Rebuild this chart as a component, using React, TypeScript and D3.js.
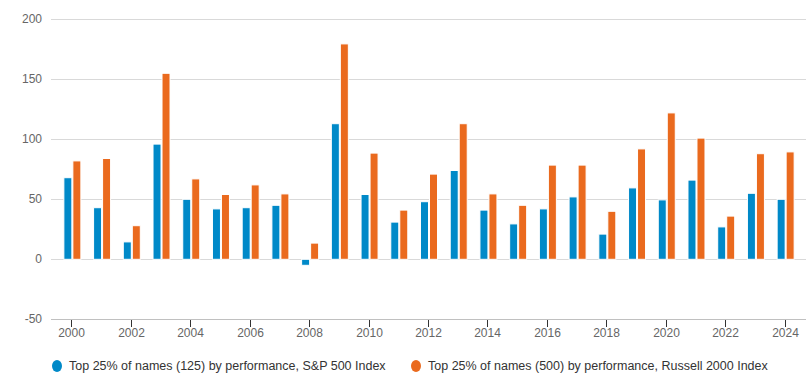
import React from "react";
import * as d3 from "d3";

const years = [2000,2001,2002,2003,2004,2005,2006,2007,2008,2009,2010,2011,2012,2013,2014,2015,2016,2017,2018,2019,2020,2021,2022,2023,2024];
const sp500 = [68,43,14.5,96,50,42,43,45,-5,113,54,31,48,74,41,29.5,42,52,21,59.5,49.5,66,27,55,50];
const russell = [82,84,28,155,67,54,62,54.5,13.5,179.5,88.5,41,71,113,54.5,45,78.5,78.5,40,92,122,101,36,88,89.5];
const yTicks = [-50,0,50,100,150,200];
const xTickYears = [2000,2002,2004,2006,2008,2010,2012,2014,2016,2018,2020,2022,2024];
const seriesNames = [
  "Top 25% of names (125) by performance, S&P 500 Index",
  "Top 25% of names (500) by performance, Russell 2000 Index",
];
const colors = ["#0089c8", "#ea6a1e"];

export default function App() {
  const W = 812, H = 379;
  const plotLeft = 51, plotRight = 806;
  const y = d3.scaleLinear().domain([-50, 200]).range([319.3, 19.3]);
  const x = d3.scaleBand<number>().domain(years).range([57.5, 800.5]).paddingInner(0).paddingOuter(0);
  const bw = 7, gap = 2;
  const font = "'Liberation Sans', Arial, sans-serif";
  return (
    <svg width={W} height={H} style={{ position: "absolute", left: 0, top: 0, background: "#fff" }} fontFamily={font}>
      {yTicks.map((t) => (
        <g key={t}>
          {t !== -50 && (
            <line x1={plotLeft} x2={plotRight} y1={Math.round(y(t)) + 0.5} y2={Math.round(y(t)) + 0.5} stroke="#d9d9d9" strokeWidth={1} />
          )}
          <text x={42} y={y(t) + 4} textAnchor="end" fontSize={12} fill="#666">{t}</text>
        </g>
      ))}
      {years.map((yr, i) => {
        const cx = x(yr)! + x.bandwidth() / 2;
        const vals = [sp500[i], russell[i]];
        return (
          <g key={yr}>
            {vals.map((v, j) => {
              const bx = j === 0 ? cx - gap / 2 - bw : cx + gap / 2;
              const y0 = y(0), y1 = y(v);
              return (
                <rect key={j} x={bx - 0.5} y={Math.min(y0, y1)} width={bw + 1} height={Math.abs(y1 - y0)} fill={colors[j]} stroke="#fff" strokeWidth={1} />
              );
            })}
          </g>
        );
      })}
      <line x1={plotLeft} x2={plotRight} y1={319.5} y2={319.5} stroke="#c0c0c0" strokeWidth={1} />
      {xTickYears.map((yr) => {
        const cx = Math.round(x(yr)! + x.bandwidth() / 2) - 0.5;
        return (
          <g key={yr}>
            <line x1={cx} x2={cx} y1={320} y2={327} stroke="#333" strokeWidth={1} />
            <text x={cx} y={337} textAnchor="middle" fontSize={12} fill="#666">{yr}</text>
          </g>
        );
      })}
      {seriesNames.map((n, i) => {
        const lx = i === 0 ? 57 : 416;
        return (
          <g key={n}>
            <ellipse cx={lx} cy={366} rx={5} ry={6} fill={colors[i]} />
            <text x={lx + 12} y={370} fontSize={12.5} fill="#333">{n}</text>
          </g>
        );
      })}
    </svg>
  );
}
